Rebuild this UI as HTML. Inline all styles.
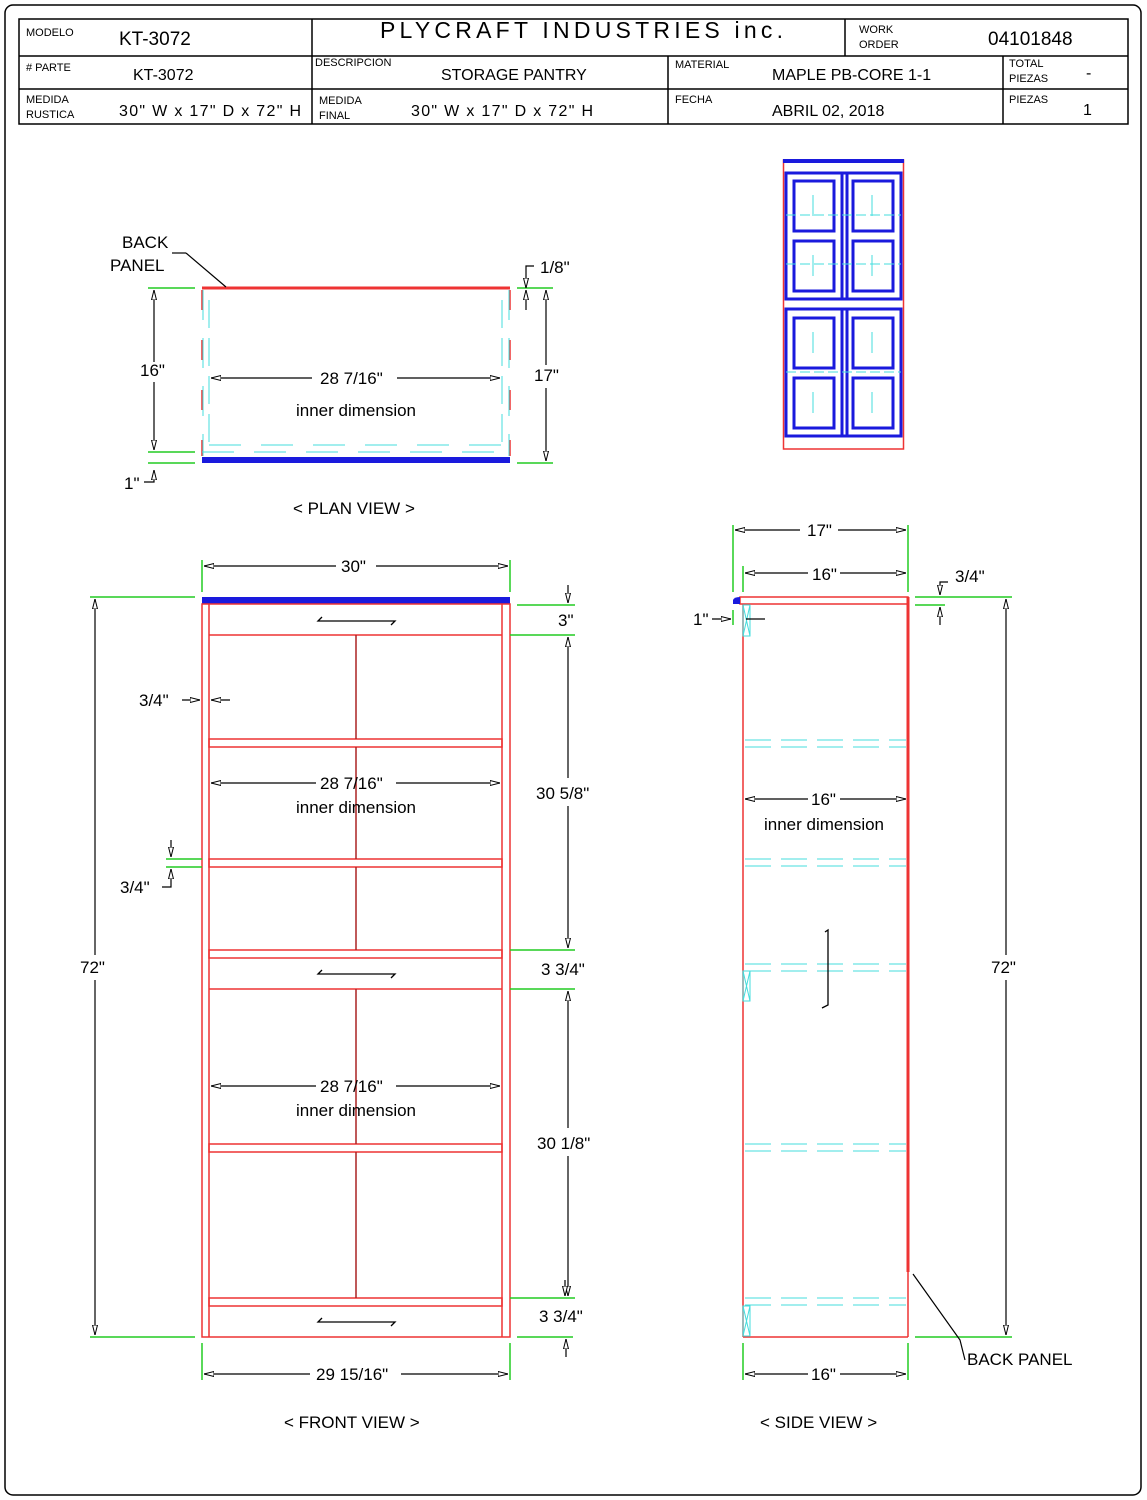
<!DOCTYPE html>
<html><head><meta charset="utf-8"><style>
html,body{margin:0;padding:0;background:#fff}
svg{display:block}
text{font-family:"Liberation Sans",sans-serif;fill:#000}
</style></head><body>
<svg width="1147" height="1500" viewBox="0 0 1147 1500" xmlns="http://www.w3.org/2000/svg">
<defs>
<marker id="a" viewBox="0 0 10 6" refX="10" refY="3" markerWidth="10" markerHeight="6" orient="auto-start-reverse" markerUnits="userSpaceOnUse"><path d="M0,0.5 L10,3 L0,5.5 Z" fill="#fff" stroke="#000" stroke-width="1"/></marker>
</defs>
<rect x="5" y="5" width="1136" height="1490" rx="8" fill="none" stroke="#000" stroke-width="1.5"/>
<!-- header table -->
<g fill="none" stroke="#000" stroke-width="1.5">
<rect x="19" y="19" width="1109" height="105"/>
<line x1="19" y1="56" x2="312" y2="56"/><line x1="845" y1="56" x2="1128" y2="56"/>
<line x1="312" y1="56" x2="845" y2="56"/>
<line x1="19" y1="89" x2="1128" y2="89"/>
<line x1="312" y1="19" x2="312" y2="124"/>
<line x1="845" y1="19" x2="845" y2="56"/>
<line x1="668" y1="56" x2="668" y2="124"/>
<line x1="1003" y1="56" x2="1003" y2="124"/>
</g>
<g font-size="11">
<text x="26" y="36">MODELO</text>
<text x="859" y="33">WORK</text><text x="859" y="48">ORDER</text>
<text x="26" y="71"># PARTE</text>
<text x="315" y="66">DESCRIPCION</text>
<text x="675" y="68">MATERIAL</text>
<text x="1009" y="67">TOTAL</text><text x="1009" y="82">PIEZAS</text>
<text x="26" y="103">MEDIDA</text><text x="26" y="118">RUSTICA</text>
<text x="319" y="104">MEDIDA</text><text x="319" y="119">FINAL</text>
<text x="675" y="103">FECHA</text>
<text x="1009" y="103">PIEZAS</text>
</g>
<g font-size="19">
<text x="119" y="45">KT-3072</text>
<text x="988" y="45">04101848</text>
<text x="380" y="38" font-size="23" textLength="403" lengthAdjust="spacing">PLYCRAFT  INDUSTRIES  inc.</text>
</g>
<g font-size="16">
<text x="133" y="80">KT-3072</text>
<text x="441" y="80">STORAGE PANTRY</text>
<text x="772" y="80">MAPLE  PB-CORE 1-1</text>
<text x="1086" y="78">-</text>
<text x="119" y="116" textLength="182" lengthAdjust="spacing">30" W x  17" D x 72" H</text>
<text x="411" y="116" textLength="182" lengthAdjust="spacing">30" W x  17" D x 72" H</text>
<text x="772" y="116">ABRIL 02, 2018</text>
<text x="1083" y="115">1</text>
</g>

<!-- thumbnail -->
<g fill="none">
<rect x="783.5" y="160" width="120" height="289" stroke="#e33" stroke-width="1.5"/>
<rect x="783" y="159" width="121" height="4" fill="#1a1add" stroke="none"/>
<g stroke="#1a1add" stroke-width="3">
<rect x="786" y="173" width="115" height="126"/>
<rect x="786" y="309" width="115" height="127"/>
<line x1="842" y1="173" x2="842" y2="299"/><line x1="847" y1="173" x2="847" y2="299"/>
<line x1="842" y1="309" x2="842" y2="436"/><line x1="847" y1="309" x2="847" y2="436"/>
<rect x="794" y="181" width="40" height="50"/><rect x="853" y="181" width="40" height="50"/>
<rect x="794" y="241" width="40" height="50"/><rect x="853" y="241" width="40" height="50"/>
<rect x="794" y="318" width="40" height="50"/><rect x="853" y="318" width="40" height="50"/>
<rect x="794" y="378" width="40" height="50"/><rect x="853" y="378" width="40" height="50"/>
</g>
<g stroke="#4dd" stroke-width="1" stroke-dasharray="10,4">
<line x1="786" y1="215" x2="901" y2="215"/><line x1="786" y1="264" x2="901" y2="264"/>
<line x1="786" y1="372" x2="901" y2="372"/>
</g>
<g stroke="#4dd" stroke-width="1">
<line x1="813" y1="195" x2="813" y2="216"/><line x1="872" y1="195" x2="872" y2="216"/>
<line x1="813" y1="255" x2="813" y2="276"/><line x1="872" y1="255" x2="872" y2="276"/>
<line x1="813" y1="332" x2="813" y2="353"/><line x1="872" y1="332" x2="872" y2="353"/>
<line x1="813" y1="392" x2="813" y2="413"/><line x1="872" y1="392" x2="872" y2="413"/>
</g>
</g>

<!-- PLAN VIEW -->
<g fill="none">
<line x1="202" y1="288" x2="510" y2="288" stroke="#e33" stroke-width="3"/>
<rect x="202" y="457" width="308" height="6" fill="#1a1add"/>
<g stroke="#e33" stroke-width="1.5" stroke-dasharray="20,30">
<line x1="202" y1="290" x2="202" y2="456"/><line x1="510" y1="290" x2="510" y2="456"/>
</g>
<g stroke="#4dd" stroke-width="1">
<line x1="203" y1="290" x2="203" y2="456" stroke-dasharray="30,18"/><line x1="509" y1="290" x2="509" y2="456" stroke-dasharray="30,18"/>
<line x1="209" y1="300" x2="209" y2="446" stroke-dasharray="28,10"/><line x1="502" y1="300" x2="502" y2="446" stroke-dasharray="28,10"/>
<line x1="209" y1="445" x2="502" y2="445" stroke-dasharray="32,20"/>
<line x1="202" y1="452" x2="510" y2="452" stroke-dasharray="32,20"/>
</g>
<g stroke="#2c2" stroke-width="1.5">
<line x1="148" y1="288" x2="195" y2="288"/><line x1="148" y1="452" x2="195" y2="452"/><line x1="148" y1="463" x2="195" y2="463"/>
<line x1="517" y1="288" x2="553" y2="288"/><line x1="517" y1="463" x2="553" y2="463"/>
</g>
<g stroke="#000" stroke-width="1.2">
<line x1="154" y1="290" x2="154" y2="362" marker-start="url(#a)"/><line x1="154" y1="382" x2="154" y2="450" marker-end="url(#a)"/>
<path d="M154,470 V482 H144" marker-start="url(#a)"/>
<line x1="546" y1="290" x2="546" y2="365" marker-start="url(#a)"/><line x1="546" y1="388" x2="546" y2="461" marker-end="url(#a)"/>
<path d="M526,288 V266 H534" marker-start="url(#a)"/><line x1="526" y1="290" x2="526" y2="310" marker-start="url(#a)"/>
<line x1="211" y1="378" x2="312" y2="378" marker-start="url(#a)"/><line x1="397" y1="378" x2="500" y2="378" marker-end="url(#a)"/>
<path d="M186,253 L226,287"/><line x1="172" y1="253" x2="186" y2="253"/>
</g>
</g>
<g font-size="17">
<text x="122" y="248">BACK</text><text x="110" y="271">PANEL</text>
<text x="540" y="273">1/8"</text>
<text x="140" y="376">16"</text>
<text x="534" y="381">17"</text>
<text x="320" y="384">28 7/16"</text>
<text x="296" y="416">inner dimension</text>
<text x="124" y="489">1"</text>
<text x="293" y="514">&lt; PLAN VIEW &gt;</text>
</g>

<!-- FRONT VIEW -->
<g fill="none">
<rect x="202" y="597" width="308" height="7" fill="#1a1add"/>
<g stroke="#e33" stroke-width="1.5">
<rect x="202" y="604" width="308" height="733"/>
<line x1="209" y1="604" x2="209" y2="1337"/><line x1="502" y1="604" x2="502" y2="1337"/>
<line x1="209" y1="635" x2="502" y2="635"/>
<rect x="209" y="739" width="293" height="8"/>
<rect x="209" y="859" width="293" height="8"/>
<rect x="209" y="950" width="293" height="8"/>
<line x1="209" y1="989" x2="502" y2="989"/>
<rect x="209" y="1144" width="293" height="8"/>
<rect x="209" y="1298" width="293" height="8"/>
</g>
<g stroke="#a22" stroke-width="1.5">
<line x1="356" y1="635" x2="356" y2="739"/><line x1="356" y1="747" x2="356" y2="859"/><line x1="356" y1="867" x2="356" y2="950"/>
<line x1="356" y1="989" x2="356" y2="1144"/><line x1="356" y1="1152" x2="356" y2="1298"/>
</g>
<g stroke="#000" stroke-width="1.3">
<path d="M322,617 L318,621 H395 L391,625"/>
<path d="M322,970 L318,974 H395 L391,978"/>
<path d="M322,1318 L318,1322 H395 L391,1326"/>
</g>
<g stroke="#2c2" stroke-width="1.5">
<line x1="202" y1="560" x2="202" y2="592"/><line x1="510" y1="560" x2="510" y2="592"/>
<line x1="90" y1="597" x2="195" y2="597"/><line x1="90" y1="1337" x2="195" y2="1337"/>
<line x1="517" y1="605" x2="575" y2="605"/><line x1="510" y1="635" x2="575" y2="635"/>
<line x1="510" y1="950" x2="575" y2="950"/><line x1="510" y1="989" x2="575" y2="989"/>
<line x1="510" y1="1298" x2="575" y2="1298"/><line x1="517" y1="1337" x2="573" y2="1337"/>
<line x1="166" y1="859" x2="202" y2="859"/><line x1="166" y1="867" x2="202" y2="867"/>
<line x1="202" y1="1343" x2="202" y2="1380"/><line x1="510" y1="1343" x2="510" y2="1380"/>
</g>
<g stroke="#000" stroke-width="1.2">
<line x1="204" y1="566" x2="336" y2="566" marker-start="url(#a)"/><line x1="376" y1="566" x2="508" y2="566" marker-end="url(#a)"/>
<line x1="95" y1="599" x2="95" y2="955" marker-start="url(#a)"/><line x1="95" y1="980" x2="95" y2="1335" marker-end="url(#a)"/>
<line x1="568" y1="585" x2="568" y2="603" marker-end="url(#a)"/>
<line x1="568" y1="637" x2="568" y2="778" marker-start="url(#a)"/><line x1="568" y1="806" x2="568" y2="948" marker-end="url(#a)"/>
<line x1="568" y1="991" x2="568" y2="1128" marker-start="url(#a)"/><line x1="568" y1="1156" x2="568" y2="1296" marker-end="url(#a)"/>
<line x1="565" y1="1280" x2="565" y2="1296" marker-end="url(#a)"/>
<line x1="566" y1="1357" x2="566" y2="1339" marker-end="url(#a)"/>
<line x1="182" y1="700" x2="200" y2="700" marker-end="url(#a)"/><line x1="230" y1="700" x2="211" y2="700" marker-end="url(#a)"/>
<line x1="171" y1="840" x2="171" y2="857" marker-end="url(#a)"/><path d="M171,869 V887 H162" marker-start="url(#a)"/>
<line x1="211" y1="783" x2="316" y2="783" marker-start="url(#a)"/><line x1="396" y1="783" x2="500" y2="783" marker-end="url(#a)"/>
<line x1="211" y1="1086" x2="316" y2="1086" marker-start="url(#a)"/><line x1="396" y1="1086" x2="500" y2="1086" marker-end="url(#a)"/>
<line x1="204" y1="1374" x2="310" y2="1374" marker-start="url(#a)"/><line x1="401" y1="1374" x2="508" y2="1374" marker-end="url(#a)"/>
</g>
</g>
<g font-size="17">
<text x="341" y="572">30"</text>
<text x="558" y="626">3"</text>
<text x="139" y="706">3/4"</text>
<text x="320" y="789">28 7/16"</text>
<text x="296" y="813">inner dimension</text>
<text x="536" y="799">30 5/8"</text>
<text x="120" y="893">3/4"</text>
<text x="80" y="973">72"</text>
<text x="541" y="975">3 3/4"</text>
<text x="320" y="1092">28 7/16"</text>
<text x="296" y="1116">inner dimension</text>
<text x="537" y="1149">30 1/8"</text>
<text x="539" y="1322">3 3/4"</text>
<text x="316" y="1380">29 15/16"</text>
<text x="284" y="1428">&lt; FRONT VIEW &gt;</text>
</g>

<!-- SIDE VIEW -->
<g fill="none">
<g stroke="#e33" stroke-width="1.5">
<rect x="740" y="597" width="168" height="7"/>
<line x1="743" y1="604" x2="743" y2="1337"/>
<line x1="743" y1="1337" x2="908" y2="1337"/>
<line x1="908" y1="1270" x2="908" y2="1337"/>
</g>
<line x1="908" y1="597" x2="908" y2="1272" stroke="#e33" stroke-width="3"/>
<path d="M733,604 V600 Q734,597 740,597 V604 Z" fill="#1a1add"/>
<g stroke="#4dd" stroke-width="1">
<g stroke-dasharray="26,10">
<line x1="745" y1="740" x2="906" y2="740"/><line x1="745" y1="747" x2="906" y2="747"/>
<line x1="745" y1="859" x2="906" y2="859"/><line x1="745" y1="866" x2="906" y2="866"/>
<line x1="745" y1="964" x2="906" y2="964"/><line x1="745" y1="971" x2="906" y2="971"/>
<line x1="745" y1="1144" x2="906" y2="1144"/><line x1="745" y1="1151" x2="906" y2="1151"/>
<line x1="745" y1="1298" x2="906" y2="1298"/><line x1="745" y1="1305" x2="906" y2="1305"/>
</g>
<rect x="743" y="605" width="7" height="31"/><path d="M743,605 L750,636 M750,605 L743,636"/>
<rect x="743" y="971" width="7" height="30"/><path d="M743,971 L750,1001 M750,971 L743,1001"/>
<rect x="743" y="1306" width="7" height="30"/><path d="M743,1306 L750,1336 M750,1306 L743,1336"/>
</g>
<path d="M825,932 L828,930 V1005 L822,1008" stroke="#000" stroke-width="1.3"/>
<g stroke="#2c2" stroke-width="1.5">
<line x1="733" y1="525" x2="733" y2="592"/><line x1="743" y1="566" x2="743" y2="592"/>
<line x1="908" y1="525" x2="908" y2="592"/>
<line x1="733" y1="610" x2="733" y2="625"/>
<line x1="915" y1="597" x2="1012" y2="597"/><line x1="915" y1="605" x2="945" y2="605"/>
<line x1="915" y1="1337" x2="1012" y2="1337"/>
<line x1="743" y1="1343" x2="743" y2="1380"/><line x1="908" y1="1343" x2="908" y2="1380"/>
</g>
<g stroke="#000" stroke-width="1.2">
<line x1="735" y1="530" x2="800" y2="530" marker-start="url(#a)"/><line x1="838" y1="530" x2="906" y2="530" marker-end="url(#a)"/>
<line x1="745" y1="573" x2="808" y2="573" marker-start="url(#a)"/><line x1="840" y1="573" x2="906" y2="573" marker-end="url(#a)"/>
<path d="M940,595 V582 H948" marker-start="url(#a)"/><line x1="940" y1="607" x2="940" y2="625" marker-start="url(#a)"/>
<line x1="1006" y1="599" x2="1006" y2="955" marker-start="url(#a)"/><line x1="1006" y1="980" x2="1006" y2="1335" marker-end="url(#a)"/>
<line x1="712" y1="619" x2="731" y2="619" marker-end="url(#a)"/><line x1="765" y1="619" x2="746" y2="619"/>
<line x1="745" y1="799" x2="808" y2="799" marker-start="url(#a)"/><line x1="840" y1="799" x2="906" y2="799" marker-end="url(#a)"/>
<line x1="745" y1="1374" x2="808" y2="1374" marker-start="url(#a)"/><line x1="840" y1="1374" x2="906" y2="1374" marker-end="url(#a)"/>
<path d="M913,1274 L960,1340 L965,1360"/>
</g>
</g>
<g font-size="17">
<text x="807" y="536">17"</text>
<text x="812" y="580">16"</text>
<text x="955" y="582">3/4"</text>
<text x="693" y="625">1"</text>
<text x="811" y="805">16"</text>
<text x="764" y="830">inner dimension</text>
<text x="991" y="973">72"</text>
<text x="967" y="1365">BACK PANEL</text>
<text x="811" y="1380">16"</text>
<text x="760" y="1428">&lt; SIDE VIEW &gt;</text>
</g>
</svg>
</body></html>
